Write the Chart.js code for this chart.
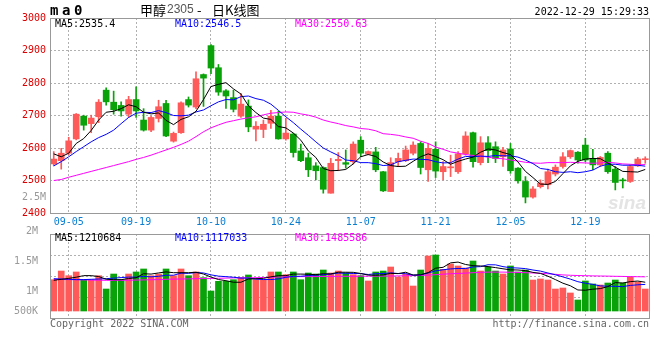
<!DOCTYPE html>
<html>
<head>
<meta charset="utf-8">
<script src="https://cdn.jsdelivr.net/npm/chart.js@4.4.1/dist/chart.umd.min.js"></script>
<style>
  html, body { margin: 0; padding: 0; background: #fff; }
  #wrap { position: relative; width: 660px; height: 360px; }
  canvas { position: absolute; left: 0; }
  #kline { top: 0; }
  #vol { top: 224px; }
</style>
</head>
<body>
<div id="wrap">
  <canvas id="kline" width="660" height="230"></canvas>
  <canvas id="vol" width="660" height="136"></canvas>
</div>
<script>
const DATES = [
  '09-01','09-02','09-05','09-06','09-07','09-08','09-09','09-13','09-14','09-15',
  '09-16','09-19','09-20','09-21','09-22','09-23','09-26','09-27','09-28','09-29',
  '09-30','10-10','10-11','10-12','10-13','10-14','10-17','10-18','10-19','10-20',
  '10-21','10-24','10-25','10-26','10-27','10-28','10-31','11-01','11-02','11-03',
  '11-04','11-07','11-08','11-09','11-10','11-11','11-14','11-15','11-16','11-17',
  '11-18','11-21','11-22','11-23','11-24','11-25','11-28','11-29','11-30','12-01',
  '12-02','12-05','12-06','12-07','12-08','12-09','12-12','12-13','12-14','12-15',
  '12-16','12-19','12-20','12-21','12-22','12-23','12-26','12-27','12-28','12-29'
];
const X_LABELS = ['09-05','09-19','10-10','10-24','11-07','11-21','12-05','12-19'];

const OPEN = [
  2551,2561,2584,2628,2698,2675,2696,2778,2741,2731,
  2704,2749,2686,2655,2691,2737,2621,2647,2749,2726,
  2826,2915,2847,2776,2755,2698,2729,2658,2657,2676,
  2698,2628,2643,2591,2570,2545,2540,2461,2561,2555,
  2558,2624,2581,2588,2527,2466,2558,2561,2584,2614,
  2533,2596,2527,2539,2527,2582,2647,2555,2616,2604,
  2573,2597,2538,2497,2449,2481,2487,2520,2543,2573,
  2587,2609,2568,2548,2584,2535,2501,2497,2545,2564
];
const HIGH = [
  2589,2599,2633,2706,2701,2701,2749,2785,2775,2742,
  2759,2788,2721,2698,2747,2747,2649,2742,2757,2834,
  2828,2918,2857,2780,2778,2768,2748,2681,2686,2716,
  2714,2691,2645,2612,2584,2555,2542,2568,2586,2594,
  2619,2635,2591,2602,2528,2570,2584,2606,2619,2619,
  2614,2619,2558,2578,2589,2650,2649,2635,2635,2619,
  2602,2614,2540,2512,2481,2502,2535,2548,2586,2594,
  2589,2630,2596,2574,2589,2543,2507,2548,2571,2573
];
const LOW = [
  2545,2535,2579,2625,2655,2647,2678,2732,2704,2698,
  2694,2694,2652,2650,2680,2635,2618,2645,2726,2721,
  2728,2829,2762,2722,2711,2694,2650,2622,2632,2660,
  2627,2624,2572,2558,2512,2502,2461,2461,2530,2538,
  2551,2573,2579,2527,2466,2466,2543,2558,2579,2520,
  2497,2509,2502,2512,2522,2578,2541,2548,2555,2555,
  2543,2522,2492,2431,2446,2477,2474,2514,2538,2568,
  2553,2558,2533,2543,2522,2471,2477,2494,2543,2553
];
const CLOSE = [
  2566,2584,2622,2704,2670,2692,2741,2742,2718,2714,
  2749,2714,2655,2694,2727,2637,2645,2739,2732,2813,
  2815,2846,2772,2760,2719,2735,2665,2667,2673,2698,
  2628,2646,2586,2561,2533,2530,2473,2553,2565,2550,
  2612,2584,2589,2533,2468,2555,2568,2594,2609,2540,
  2599,2529,2543,2541,2582,2637,2558,2616,2592,2568,
  2594,2530,2499,2449,2474,2492,2527,2541,2573,2592,
  2563,2563,2548,2571,2527,2494,2499,2543,2566,2566
];
const MA5 = [
  2582,2573,2584,2614,2629,2654,2686,2710,2713,2721,
  2733,2727,2710,2705,2708,2685,2672,2688,2696,2713,
  2749,2789,2796,2801,2782,2766,2730,2709,2692,2688,
  2666,2662,2646,2624,2591,2571,2537,2530,2531,2534,
  2551,2573,2580,2574,2557,2546,2543,2544,2559,2573,
  2582,2574,2564,2550,2559,2566,2572,2587,2597,2594,
  2586,2580,2557,2528,2509,2489,2488,2497,2521,2545,
  2559,2566,2568,2567,2554,2541,2528,2527,2526,2534
];
const MA10 = [
  2545,2558,2573,2589,2604,2619,2632,2642,2655,2675,
  2694,2707,2710,2709,2715,2709,2700,2699,2701,2711,
  2717,2730,2742,2749,2748,2758,2760,2752,2747,2735,
  2716,2696,2678,2658,2639,2619,2600,2588,2577,2563,
  2561,2555,2555,2552,2546,2548,2558,2562,2566,2565,
  2564,2558,2554,2555,2566,2574,2573,2575,2574,2577,
  2576,2576,2572,2563,2552,2537,2534,2527,2525,2527,
  2524,2527,2532,2544,2550,2550,2547,2547,2547,2544
];
const MA30 = [
  2500,2503,2510,2516,2522,2528,2534,2540,2546,2552,
  2558,2565,2571,2578,2586,2594,2602,2611,2621,2635,
  2650,2662,2671,2679,2684,2689,2693,2696,2702,2707,
  2709,2711,2710,2705,2701,2695,2686,2680,2675,2669,
  2665,2660,2658,2653,2644,2642,2639,2634,2630,2621,
  2614,2603,2596,2588,2584,2580,2577,2575,2572,2568,
  2567,2563,2560,2556,2554,2553,2555,2555,2555,2556,
  2555,2554,2553,2554,2556,2554,2551,2550,2548,2549
];

const VOLUME = [
  1188000,1333000,1255000,1317000,1188000,1188000,1255000,1033000,1283000,1188000,
  1283000,1317000,1367000,1255000,1283000,1367000,1255000,1367000,1255000,1317000,
  1222000,1000000,1161000,1161000,1188000,1222000,1267000,1188000,1188000,1317000,
  1317000,1272000,1317000,1188000,1300000,1283000,1350000,1300000,1333000,1300000,
  1272000,1255000,1167000,1317000,1333000,1400000,1233000,1283000,1083000,1350000,
  1583000,1600000,1361000,1450000,1417000,1383000,1500000,1333000,1400000,1333000,
  1283000,1417000,1317000,1350000,1183000,1200000,1183000,1033000,1050000,967000,
  850000,1167000,1117000,1100000,1133000,1183000,1133000,1233000,1150000,1033000
];
const VMA5 = [
  1178000,1195000,1210000,1230000,1256000,1256000,1241000,1196000,1189000,1189000,
  1208000,1221000,1288000,1282000,1301000,1318000,1305000,1305000,1305000,1312000,
  1283000,1232000,1191000,1172000,1146000,1146000,1200000,1205000,1211000,1236000,
  1255000,1256000,1282000,1282000,1279000,1272000,1288000,1284000,1313000,1313000,
  1311000,1292000,1265000,1262000,1269000,1294000,1290000,1313000,1266000,1270000,
  1306000,1380000,1395000,1469000,1482000,1442000,1422000,1417000,1407000,1390000,
  1370000,1353000,1350000,1340000,1310000,1293000,1247000,1190000,1130000,1087000,
  1017000,1013000,1030000,1040000,1073000,1140000,1133000,1156000,1166000,1146000
];
const VMA10 = [
  1205000,1200000,1195000,1190000,1190000,1195000,1200000,1205000,1215000,1223000,
  1232000,1231000,1242000,1236000,1245000,1263000,1263000,1297000,1294000,1307000,
  1301000,1269000,1248000,1239000,1229000,1215000,1216000,1198000,1191000,1191000,
  1201000,1228000,1244000,1246000,1258000,1264000,1272000,1283000,1298000,1296000,
  1292000,1290000,1275000,1288000,1291000,1303000,1291000,1289000,1264000,1269000,
  1300000,1335000,1354000,1368000,1376000,1374000,1401000,1406000,1438000,1436000,
  1406000,1388000,1383000,1373000,1350000,1332000,1300000,1270000,1235000,1198000,
  1155000,1130000,1110000,1085000,1080000,1078000,1073000,1093000,1103000,1110000
];
const VMA30 = [
  1195000,1192000,1190000,1188000,1185000,1182000,1180000,1178000,1178000,1178000,
  1180000,1182000,1185000,1188000,1190000,1195000,1198000,1200000,1202000,1205000,
  1208000,1210000,1212000,1215000,1218000,1220000,1220000,1222000,1225000,1228000,
  1232000,1235000,1238000,1240000,1240000,1240000,1242000,1243000,1244000,1245000,
  1245000,1246000,1247000,1248000,1248000,1250000,1252000,1254000,1256000,1260000,
  1265000,1272000,1280000,1288000,1292000,1298000,1305000,1310000,1315000,1315000,
  1315000,1312000,1310000,1305000,1300000,1295000,1288000,1278000,1268000,1262000,
  1258000,1255000,1252000,1250000,1248000,1245000,1243000,1240000,1238000,1236000
];

const PRICE_LEGEND = ['MA5:2535.4', 'MA10:2546.5', 'MA30:2550.63'];
const VOL_LEGEND = ['MA5:1210684', 'MA10:1117033', 'MA30:1485586'];
const VOL_TICKS = [666667, 1000000, 1500000, 2000000];
const VOL_TICK_TEXT = ['500K', '1M', '1.5M', '2M'];

const UP = '#ff5a5a', DOWN = '#09a309';
const GRID = '#b0b0b0';
const MONO = '"DejaVu Sans Mono", monospace';
const LEGEND_COLORS = ['#000000', '#0000ff', '#ff00ff'];
const barColors = CLOSE.map((c, i) => c >= OPEN[i] ? UP : DOWN);

const xGridColor = ctx => X_LABELS.includes(DATES[ctx.index]) ? GRID : 'transparent';

const maLine = (data, color) => ({
    type: 'line', data, borderColor: color, borderWidth: 1,
    pointRadius: 0, tension: 0, order: 0
});

function drawLegend(ctx, texts, y) {
    const xs = [55, 175, 295];
    ctx.font = '10px ' + MONO;
    ctx.textAlign = 'left';
    ctx.textBaseline = 'middle';
    texts.forEach((t, i) => {
        ctx.fillStyle = LEGEND_COLORS[i];
        ctx.fillText(t, xs[i], y);
    });
}

const klineDecor = {
    id: 'klineDecor',
    beforeDatasetsDraw(chart) {
        const ctx = chart.ctx;
        ctx.save();
        ctx.font = 'italic bold 19px "Liberation Sans", sans-serif';
        ctx.fillStyle = '#e4e4e4';
        ctx.textAlign = 'right';
        ctx.textBaseline = 'alphabetic';
        ctx.fillText('sina', 646, 209);
        ctx.restore();
    },
    afterDraw(chart) {
        const {ctx, chartArea: a} = chart;
        ctx.save();
        ctx.strokeStyle = '#999';
        ctx.lineWidth = 1;
        ctx.strokeRect(a.left + 0.5, a.top + 0.5, a.right - a.left, a.bottom - a.top);

        // header
        ctx.fillStyle = '#000';
        ctx.textBaseline = 'middle';
        ctx.textAlign = 'left';
        ctx.font = 'bold 14px ' + MONO;
        ctx.fillText('m', 50, 11);
        ctx.fillText('a', 62, 11);
        ctx.fillText('0', 74, 11);

        ctx.font = '13px "Noto Sans CJK SC", sans-serif';
        ctx.fillText('甲醇', 140, 10);
        ctx.fillStyle = '#555';
        ctx.font = '12px "Liberation Sans", sans-serif';
        ctx.fillText('2305', 167, 10);
        ctx.fillStyle = '#000';
        ctx.font = '13px "Noto Sans CJK SC", sans-serif';
        ctx.fillText('-', 197, 10);
        ctx.fillText('日K线图', 212, 10);

        ctx.font = '10px ' + MONO;
        ctx.textAlign = 'right';
        ctx.fillText('2022-12-29 15:29:33', 649, 12);

        ctx.fillStyle = '#999';
        ctx.fillText('2.5M', 46, 197);

        drawLegend(ctx, PRICE_LEGEND, 24);
        ctx.restore();
    }
};

const volDecor = {
    id: 'volDecor',
    afterDraw(chart) {
        const {ctx, chartArea: a} = chart;
        ctx.save();
        ctx.strokeStyle = '#999';
        ctx.lineWidth = 1;
        ctx.strokeRect(a.left + 0.5, a.top + 0.5, a.right - a.left, a.bottom - a.top);
        drawLegend(ctx, VOL_LEGEND, 14.5);
        ctx.fillStyle = '#666';
        ctx.font = '10px ' + MONO;
        ctx.textAlign = 'left';
        ctx.fillText('Copyright 2022 SINA.COM', 50, 100);
        ctx.textAlign = 'right';
        ctx.fillText('http://finance.sina.com.cn', 649, 100);
        ctx.restore();
    }
};

new Chart(document.getElementById('kline'), {
    type: 'bar',
    data: {
        labels: DATES,
        datasets: [
            maLine(MA5, '#000000'),
            maLine(MA10, '#0000ff'),
            maLine(MA30, '#ff00ff'),
            {
                data: OPEN.map((o, i) => [o, CLOSE[i]]),
                backgroundColor: barColors,
                barThickness: 6, minBarLength: 1, grouped: false, order: 1
            },
            {
                data: LOW.map((l, i) => [l, HIGH[i]]),
                backgroundColor: barColors,
                barThickness: 1, grouped: false, order: 2
            }
        ]
    },
    options: {
        responsive: false,
        animation: false,
        layout: { padding: { top: 18, right: 11, left: 0, bottom: 0 } },
        plugins: { legend: { display: false }, tooltip: { enabled: false } },
        scales: {
            x: {
                offset: true,
                grid: { offset: false, drawTicks: false, color: xGridColor },
                border: { display: false, dash: [2, 2] },
                ticks: {
                    autoSkip: false, maxRotation: 0, minRotation: 0, padding: 3,
                    color: '#0a7fd2',
                    font: { family: MONO, size: 10 },
                    callback: (v, i) => X_LABELS.includes(DATES[i]) ? DATES[i] : ''
                },
                afterFit(s) { s.height = 17; }
            },
            y: {
                min: 2400, max: 3000,
                ticks: {
                    stepSize: 100, padding: 4, color: '#dd0000',
                    font: { family: MONO, size: 10 },
                    callback: v => String(v)
                },
                grid: {
                    drawTicks: false,
                    color: ctx => (ctx.tick.value === 2400 || ctx.tick.value === 3000) ? 'transparent' : GRID
                },
                border: { display: false, dash: [2, 2] },
                afterFit(s) { s.width = 50; }
            }
        }
    },
    plugins: [klineDecor]
});

new Chart(document.getElementById('vol'), {
    type: 'bar',
    data: {
        labels: DATES,
        datasets: [
            maLine(VMA5, '#000000'),
            maLine(VMA10, '#0000ff'),
            maLine(VMA30, '#ff00ff'),
            {
                data: VOLUME,
                base: VOL_TICKS[0],
                backgroundColor: barColors,
                barThickness: 6, grouped: false, order: 1
            }
        ]
    },
    options: {
        responsive: false,
        animation: false,
        layout: { padding: { top: 10, right: 11, left: 0, bottom: 42 } },
        plugins: { legend: { display: false }, tooltip: { enabled: false } },
        scales: {
            x: {
                offset: true,
                grid: { offset: false, drawTicks: false, color: xGridColor },
                border: { display: false, dash: [2, 2] },
                ticks: { display: false, autoSkip: false },
                afterFit(s) { s.height = 0; }
            },
            y: {
                min: 550000, max: 1950000,
                afterBuildTicks(s) { s.ticks = VOL_TICKS.map(v => ({ value: v })); },
                ticks: {
                    padding: 4, color: '#999', font: { family: MONO, size: 10 },
                    callback: v => VOL_TICK_TEXT[VOL_TICKS.indexOf(v)]
                },
                grid: { display: false },
                border: { display: false },
                afterFit(s) { s.width = 50; s.paddingTop = 0; s.paddingBottom = 0; }
            },
            yg: {
                position: 'right',
                min: 0, max: 4,
                ticks: { display: false, stepSize: 1 },
                grid: {
                    drawTicks: false,
                    color: ctx => (ctx.tick.value === 0 || ctx.tick.value === 4) ? 'transparent' : GRID
                },
                border: { display: false, dash: [2, 2] },
                afterFit(s) { s.width = 0; s.paddingTop = 0; s.paddingBottom = 0; }
            }
        }
    },
    plugins: [volDecor]
});
</script>
</body>
</html>
